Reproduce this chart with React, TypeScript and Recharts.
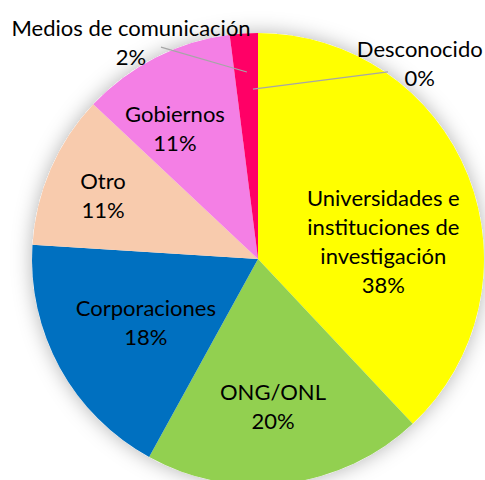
import * as React from "react";
import { PieChart, Pie, Cell } from "recharts";

const categories = [
  "Universidades e instituciones de investigación",
  "ONG/ONL",
  "Corporaciones",
  "Otro",
  "Gobiernos",
  "Medios de comunicación",
  "Desconocido",
];
const shares = [38, 20, 18, 11, 11, 2, 0];
const labelLines = [
  ["Universidades e", "instituciones de", "investigación"],
  ["ONG/ONL"],
  ["Corporaciones"],
  ["Otro"],
  ["Gobiernos"],
  ["Medios de comunicación"],
  ["Desconocido"],
];
const colors = ["#FFFF00", "#92D050", "#0070C0", "#F8CBAD", "#F47FE5", "#FF0066", "#A5A5A5"];

// label placement: clockwise degrees from 12 o'clock, radius as fraction of outer radius
const labelAngle = [82.1, 174.2, 240.3, 292.3, 327.5, 329.6, 39.6];
const labelRadius = [0.56, 0.656, 0.571, 0.741, 0.684, 1.11, 1.123];
// leader lines for outside labels: [angle, radius] start and end
const leaders: Record<number, { from: [number, number]; to: [number, number] }> = {
  5: { from: [356.6, 0.829], to: [335.4, 1.031] },
  6: { from: [358.3, 0.752], to: [34.8, 1.008] },
};

const data = categories.map((name, i) => ({ name, value: shares[i] }));

const FONT = "Lato, 'Open Sans', sans-serif";
const LINE_H = 29;

const polar = (cx: number, cy: number, r: number, deg: number) => {
  const a = (deg * Math.PI) / 180;
  return { x: cx + r * Math.sin(a), y: cy - r * Math.cos(a) };
};

function renderLabel(props: any) {
  const { cx, cy, outerRadius, index } = props;
  const p = polar(cx, cy, outerRadius * labelRadius[index], labelAngle[index]);
  const lines = [...labelLines[index], `${shares[index]}%`];
  const first = p.y - ((lines.length - 1) * LINE_H) / 2 + 8;
  const lead = leaders[index];
  let line = null;
  if (lead) {
    const a = polar(cx, cy, outerRadius * lead.from[1], lead.from[0]);
    const b = polar(cx, cy, outerRadius * lead.to[1], lead.to[0]);
    line = <line x1={a.x} y1={a.y} x2={b.x} y2={b.y} stroke="#A6A6A6" strokeWidth={1.2} />;
  }
  return (
    <g key={`lbl-${index}`}>
      {line}
      <text x={p.x} y={first} textAnchor="middle" fontFamily={FONT} fontSize={22} fill="#000">
        {lines.map((t, i) => (
          <tspan key={i} x={p.x} y={first + i * LINE_H}>
            {t}
          </tspan>
        ))}
      </text>
    </g>
  );
}

export default function App() {
  return (
    <div style={{ position: "absolute", left: 0, top: 0, width: 485, height: 480, background: "#fff" }}>
      <PieChart width={485} height={480} margin={{ top: 0, right: 0, bottom: 0, left: 0 }}>
        <defs>
          <filter id="softGlow" x="-20%" y="-20%" width="140%" height="140%">
            <feDropShadow dx="0" dy="0" stdDeviation="10" floodColor="#000" floodOpacity="0.3" />
          </filter>
        </defs>
        <Pie
          data={[{ name: "bg", value: 1 }]}
          dataKey="value"
          cx={258}
          cy={259}
          outerRadius={226}
          startAngle={90}
          endAngle={-270}
          stroke="none"
          isAnimationActive={false}
          label={false}
          labelLine={false}
        >
          <Cell fill="#fff" filter="url(#softGlow)" />
        </Pie>
        <Pie
          data={data}
          dataKey="value"
          nameKey="name"
          cx={258}
          cy={259}
          outerRadius={226}
          startAngle={90}
          endAngle={-270}
          stroke="none"
          isAnimationActive={false}
          labelLine={false}
          label={renderLabel}
        >
          {data.map((d, i) => (
            <Cell key={d.name} fill={colors[i]} />
          ))}
        </Pie>
      </PieChart>
    </div>
  );
}
